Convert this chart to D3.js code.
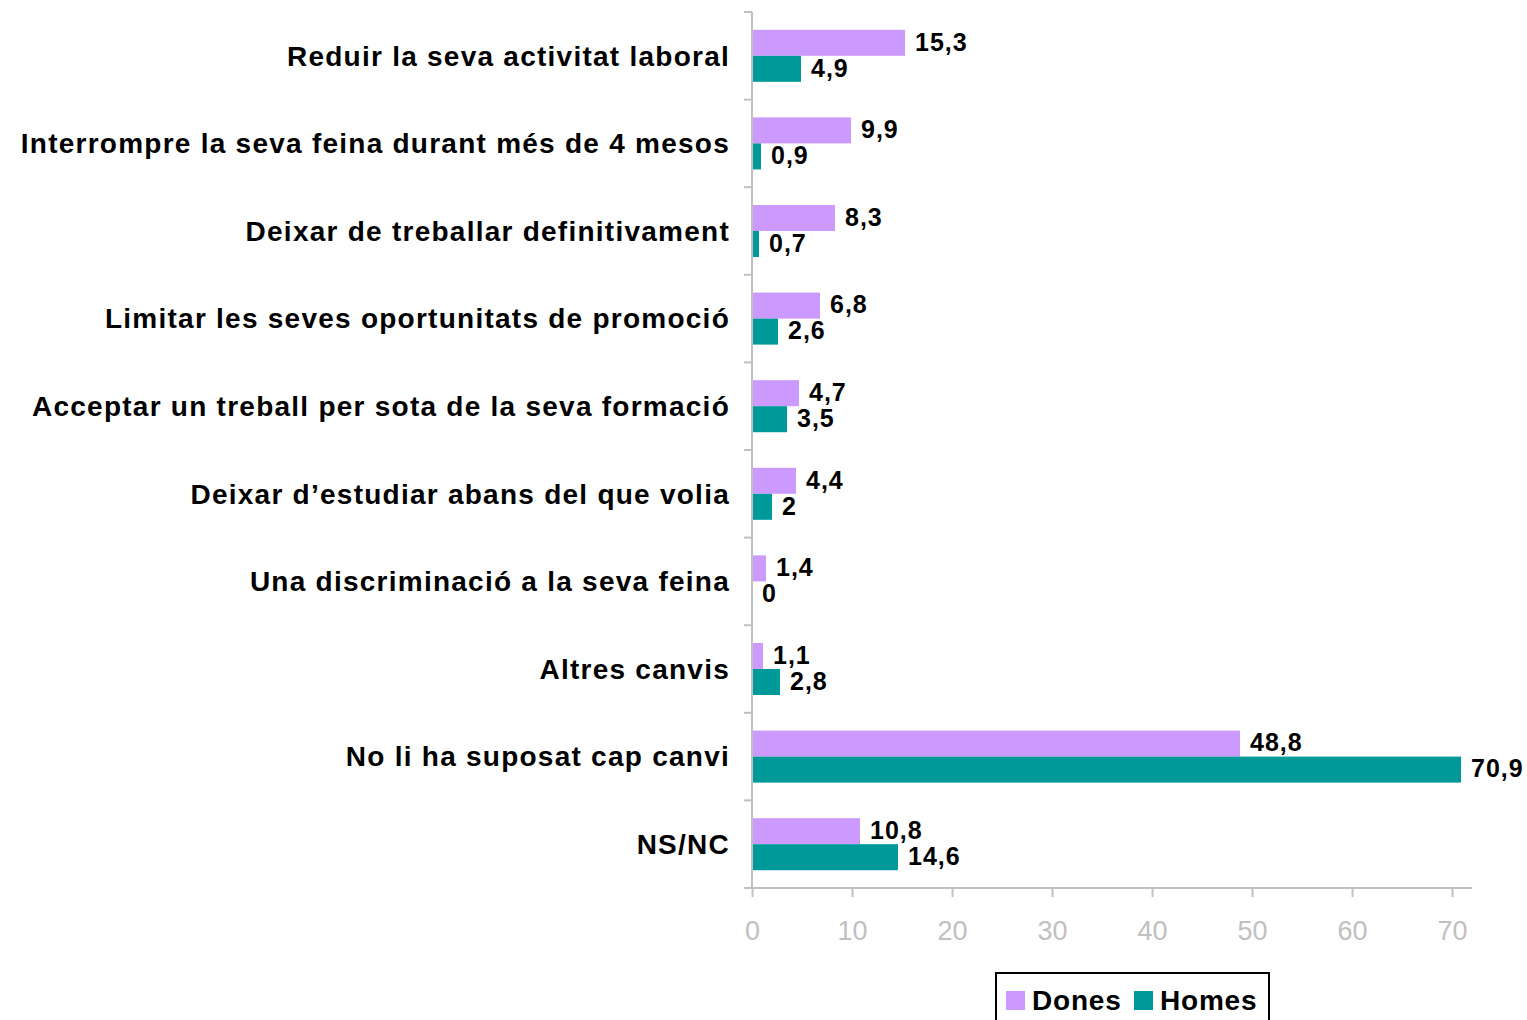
<!DOCTYPE html>
<html>
<head>
<meta charset="utf-8">
<script src="https://cdn.jsdelivr.net/npm/d3@7"></script>
<style>
body{margin:0;background:#fff;}
svg{display:block;font-family:"Liberation Sans",Arial,sans-serif;}
</style>
</head>
<body>
<div id="chart"></div>
<script>
// categories and values
let categories=[
	"Reduir la seva activitat laboral",
	"Interrompre la seva feina durant més de 4 mesos",
	"Deixar de treballar definitivament",
	"Limitar les seves oportunitats de promoció",
	"Acceptar un treball per sota de la seva formació",
	"Deixar d’estudiar abans del que volia",
	"Una discriminació a la seva feina",
	"Altres canvis",
	"No li ha suposat cap canvi",
	"NS/NC"
];
let series=["Dones","Homes"];
let dones=[15.3,9.9,8.3,6.8,4.7,4.4,1.4,1.1,48.8,10.8];
let homes=[4.9,0.9,0.7,2.6,3.5,2,0,2.8,70.9,14.6];
let xTicks=[0,10,20,30,40,50,60,70];
let colors=["#cc99ff","#009999"];

function plotChart(){
	const W=1527,H=1020;
	const svg=d3.select("#chart").append("svg")
		.attr("width",W).attr("height",H);

	// x scale
	let x=d3.scaleLinear().domain([0,72]).range([752,1472]);
	// y scale (bands)
	let y=d3.scaleBand().domain(categories).range([12,888])
		.paddingInner(0.406).paddingOuter(0.203);
	let ySub=d3.scaleBand().domain(series).range([0,y.bandwidth()]);

	const axisCol="#c0c0c0";
	const step=y.step();

	// bars
	let rows=categories.map(function(c,i){return {cat:c,vals:[dones[i],homes[i]]}});
	let g=svg.selectAll("g.row").data(rows).enter().append("g")
		.attr("class","row")
		.attr("transform",function(d){return "translate(0,"+y(d.cat)+")"});
	g.selectAll("rect").data(function(d){return d.vals.map(function(v,j){return {s:series[j],v:v,j:j}})})
		.enter().append("rect")
		.attr("x",x(0))
		.attr("y",function(d){return ySub(d.s)})
		.attr("width",function(d){return x(d.v)-x(0)})
		.attr("height",ySub.bandwidth())
		.attr("fill",function(d){return colors[d.j]});
	g.selectAll("text.val").data(function(d){return d.vals.map(function(v,j){return {s:series[j],v:v}})})
		.enter().append("text")
		.attr("class","val")
		.attr("x",function(d){return x(d.v)+10})
		.attr("y",function(d){return ySub(d.s)+ySub.bandwidth()/2-1})
		.attr("dy","0.35em")
		.attr("font-size",25).attr("font-weight","bold")
		.attr("letter-spacing",1)
		.text(function(d){return String(d.v).replace(".",",")});

	// category labels
	svg.selectAll("text.cat").data(categories).enter().append("text")
		.attr("class","cat")
		.attr("x",730)
		.attr("y",function(d){return y(d)+y.bandwidth()/2})
		.attr("dy","0.35em")
		.attr("text-anchor","end")
		.attr("font-size",28).attr("font-weight","bold")
		.attr("letter-spacing",1.25)
		.text(function(d){return d});

	// y axis line + boundary ticks
	svg.append("line").attr("x1",x(0)).attr("x2",x(0)).attr("y1",12).attr("y2",888)
		.attr("stroke",axisCol).attr("stroke-width",2);
	d3.range(categories.length+1).forEach(function(i){
		let yy=12+i*step;
		svg.append("line").attr("x1",744).attr("x2",x(0)).attr("y1",yy).attr("y2",yy)
			.attr("stroke",axisCol).attr("stroke-width",2);
	});

	// x axis
	let xa=svg.append("g").attr("transform","translate(0,888)")
		.call(d3.axisBottom(x).tickValues(xTicks).tickSize(9).tickPadding(24).tickFormat(d3.format("d")));
	xa.select(".domain").attr("stroke",axisCol).attr("stroke-width",2)
		.attr("d","M"+x(0)+",0H"+x(72));
	xa.selectAll(".tick line").attr("stroke",axisCol).attr("stroke-width",2);
	xa.selectAll(".tick text").attr("fill",axisCol).attr("font-size",27)
		.attr("font-family","'Liberation Sans',Arial,sans-serif");

	// legend
	let lg=svg.append("g");
	lg.append("rect").attr("x",996).attr("y",973).attr("width",273).attr("height",70)
		.attr("fill","#fff").attr("stroke","#000").attr("stroke-width",2);
	let lx=[1006,1134];
	series.forEach(function(s,i){
		lg.append("rect").attr("x",lx[i]).attr("y",991).attr("width",19).attr("height",19)
			.attr("fill",colors[i]);
		lg.append("text").attr("x",lx[i]+26).attr("y",1000).attr("dy","0.35em")
			.attr("font-size",28).attr("font-weight","bold")
			.attr("letter-spacing",0.8)
			.text(s);
	});
}
plotChart();
</script>
</body>
</html>
